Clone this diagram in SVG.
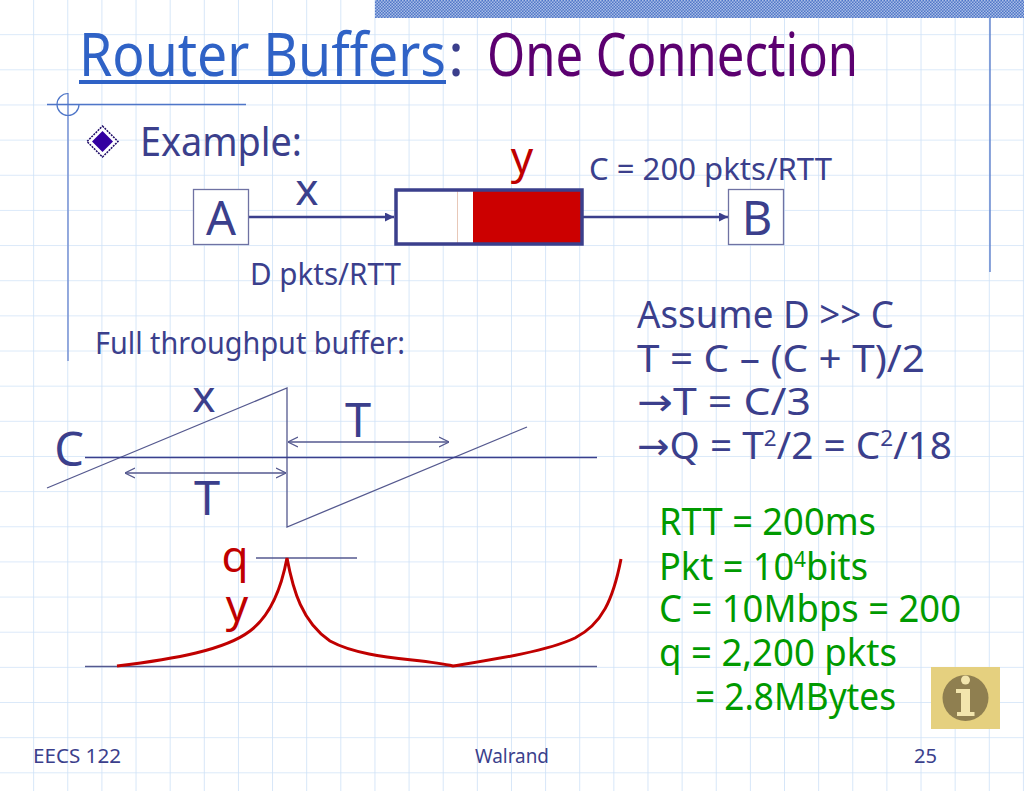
<svg xmlns="http://www.w3.org/2000/svg" width="1024" height="791" viewBox="0 0 1024 791">
<style>
text{font-family:"Noto Sans","DejaVu Sans",sans-serif;fill:#3b3f8c}
.big{font-size:40px}.sm{font-size:31px}.foot{font-size:20px}.eq{font-size:38px}
.lab{font-size:44px}.nd{font-size:47px}
text.g{fill:#009a00;font-size:38px}text.r{fill:#c00000}
.thin{fill:none;stroke:#55598f;stroke-width:1.3}
.blk{fill:none;stroke:#3b3f8c;stroke-width:2.5}
.red{fill:none;stroke:#c00000;stroke-width:3}
.box{fill:#fff;stroke:#6f72a3;stroke-width:1.3}
</style>
<defs>
<pattern id="grid" width="34.13" height="35.15" patternUnits="userSpaceOnUse" x="0" y="0">
<path d="M34 0V35.15M0 35H34.13" fill="none" stroke="#cfe2f7" stroke-width="1.4"/>
</pattern>
<pattern id="dith" width="3" height="3" patternUnits="userSpaceOnUse">
<rect width="3" height="3" fill="#4f76c8"/><rect width="1.5" height="1.5" fill="#a9bde6"/><rect x="1.5" y="1.5" width="1.5" height="1.5" fill="#a9bde6"/>
</pattern>
<marker id="arr" viewBox="0 0 10 10" refX="10" refY="5" markerWidth="10" markerHeight="9" markerUnits="userSpaceOnUse" orient="auto"><path d="M0 0L10 5L0 10Z" fill="#3b3f8c"/></marker>
<marker id="open" viewBox="0 0 10 10" refX="10" refY="5" markerWidth="10" markerHeight="12" markerUnits="userSpaceOnUse" orient="auto-start-reverse"><path d="M0 0L10 5L0 10" fill="none" stroke="#55598f" stroke-width="1.3"/></marker>
</defs>
<rect width="1024" height="791" fill="#fff"/>
<rect width="1024" height="791" fill="url(#grid)"/>
<rect x="375" y="0" width="649" height="18" fill="url(#dith)"/>
<g id="frame" fill="none">
<path d="M990 18V272" stroke-width="1.3" stroke="#4f76c8"/>
<path d="M68 93V361" stroke-width="1.6" stroke="#7d97d6"/>
<path d="M47 104.500H246" stroke-width="1.3" stroke="#4f76c8"/>
<path d="M68 93.500A11 11 0 1 0 79 104.500" stroke-width="1.2" stroke="#4f76c8"/>
</g>
<g id="title">
<text x="79" y="76" font-size="60" style="fill:#2f62c6" textLength="367" lengthAdjust="spacingAndGlyphs">Router Buffers</text>
<rect x="79" y="80" width="367" height="4" fill="#2f62c6"/>
<text x="448" y="76" font-size="60" style="fill:#3b3f8c">:</text>
<text x="487" y="76" font-size="60" style="fill:#5c0070" textLength="371" lengthAdjust="spacingAndGlyphs">One Connection</text>
</g>
<g id="bullet">
<path d="M102.500 126L118 141.500L102.500 157L87 141.500Z" fill="#fff" stroke="#1d0a66" stroke-width="1.500" stroke-dasharray="2 1"/>
<path d="M102.500 131L113 141.500L102.500 152L92 141.500Z" fill="#3300a0"/>
<text x="140" y="156" class="big" textLength="162" lengthAdjust="spacingAndGlyphs">Example:</text>
</g>
<g id="connectors">
<path class="blk" d="M248 217H394" marker-end="url(#arr)"/>
<path class="blk" d="M582 217H728" marker-end="url(#arr)"/>
</g>
<g id="node-A">
<rect class="box" x="193.500" y="189.500" width="55" height="55"/>
<text x="221" y="235" text-anchor="middle" class="nd">A</text>
</g>
<g id="node-B">
<rect class="box" x="728.500" y="189.500" width="55" height="55"/>
<text x="757" y="235" text-anchor="middle" class="nd">B</text>
</g>
<g id="buffer">
<rect x="396" y="190" width="186" height="54" fill="#fff"/>
<rect x="473" y="190" width="109" height="54" fill="#cc0000"/>
<path d="M457.500 190V244" stroke="#e8c8b8" stroke-width="1"/>
<rect x="396" y="190" width="186" height="54" fill="none" stroke="#3b3f8c" stroke-width="3.500"/>
</g>
<g id="labels-top">
<text x="307" y="205" text-anchor="middle" class="lab">x</text>
<text x="522" y="173" text-anchor="middle" class="lab r">y</text>
<text x="589" y="180" class="sm" textLength="243" lengthAdjust="spacingAndGlyphs">C = 200 pkts/RTT</text>
<text x="250" y="285" class="sm" textLength="151" lengthAdjust="spacingAndGlyphs">D pkts/RTT</text>
<text x="95" y="354" class="sm" textLength="310" lengthAdjust="spacingAndGlyphs">Full throughput buffer:</text>
</g>
<g id="equations">
<text x="637" y="328" class="eq" textLength="257" lengthAdjust="spacingAndGlyphs">Assume D &gt;&gt; C</text>
<text x="637" y="372" class="eq" textLength="288" lengthAdjust="spacingAndGlyphs">T = C – (C + T)/2</text>
<text x="637" y="415" class="eq" textLength="174" lengthAdjust="spacingAndGlyphs">→T = C/3</text>
<text x="637" y="459" class="eq" textLength="315" lengthAdjust="spacingAndGlyphs">→Q = T<tspan dy="-13" font-size="22">2</tspan><tspan dy="13">/2 = C</tspan><tspan dy="-13" font-size="22">2</tspan><tspan dy="13">/18</tspan></text>
</g>
<g id="green">
<text x="659" y="535" class="g" textLength="217" lengthAdjust="spacingAndGlyphs">RTT = 200ms</text>
<text x="659" y="580" class="g" textLength="209" lengthAdjust="spacingAndGlyphs">Pkt = 10<tspan dy="-13" font-size="22">4</tspan><tspan dy="13">bits</tspan></text>
<text x="659" y="622" class="g" textLength="302" lengthAdjust="spacingAndGlyphs">C = 10Mbps = 200</text>
<text x="659" y="666" class="g" textLength="238" lengthAdjust="spacingAndGlyphs">q = 2,200 pkts</text>
<text x="695" y="710" class="g" textLength="201" lengthAdjust="spacingAndGlyphs">= 2.8MBytes</text>
</g>
<g id="sawtooth">
<path class="thin" d="M47 488L287 388V527L527 427"/>
<path d="M85 457.500H597" fill="none" stroke="#3b3f8c" stroke-width="1.300"/>
<path class="thin" d="M125 473H286" marker-start="url(#open)" marker-end="url(#open)"/>
<path class="thin" d="M288 442H449" marker-start="url(#open)" marker-end="url(#open)"/>
<text x="69" y="466" text-anchor="middle" class="nd">C</text>
<text x="204" y="412" text-anchor="middle" class="lab">x</text>
<text x="358" y="437" text-anchor="middle" class="nd">T</text>
<text x="207" y="515" text-anchor="middle" class="nd">T</text>
</g>
<g id="queue">
<path class="thin" d="M256 558H357"/>
<path class="thin" d="M85 666.500H597"/>
<path class="red" d="M117 666C175 659 225 650 250 631C270 616 281 590 287 558C293 590 302 622 330 641C365 660 420 658 453 666C490 660 545 652 575 638C602 624 613 600 621 559"/>
<text x="235" y="572" text-anchor="middle" class="lab r">q</text>
<text x="237" y="621" text-anchor="middle" class="lab r">y</text>
</g>
<g id="info">
<rect x="931" y="667" width="69" height="62" fill="#e5d07f"/>
<circle cx="965.500" cy="698" r="23" fill="#8f7f50"/>
<circle cx="965.500" cy="680" r="4.500" fill="#f2e5ad"/>
<path d="M956 689H970V712H974.500V716H957V712H961V693H956Z" fill="#f2e5ad"/>
</g>
<g id="footer">
<text x="33" y="763" class="foot" textLength="88" lengthAdjust="spacingAndGlyphs">EECS 122</text>
<text x="475" y="763" class="foot" textLength="74" lengthAdjust="spacingAndGlyphs">Walrand</text>
<text x="914" y="763" class="foot" textLength="23" lengthAdjust="spacingAndGlyphs">25</text>
</g>
</svg>
